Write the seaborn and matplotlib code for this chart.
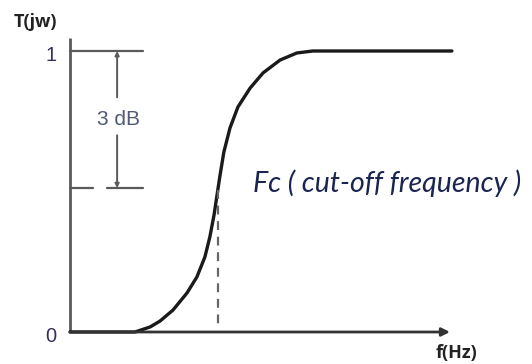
import matplotlib
matplotlib.use("Agg")
import matplotlib.pyplot as plt
import seaborn as sns
import pandas as pd

# 高通滤波器幅频响应示意图（读图估计的点）
freq = [0, 1.71, 2.11, 2.37, 2.71, 3.08, 3.34, 3.55, 3.68, 3.79, 3.87, 3.95,
        4.05, 4.21, 4.42, 4.74, 5.08, 5.53, 5.97, 6.39, 6.84, 10.05]
gain = [0, 0, 0.018, 0.039, 0.078, 0.139, 0.196, 0.267, 0.338, 0.416, 0.488,
        0.559, 0.641, 0.726, 0.801, 0.868, 0.922, 0.968, 0.993, 1.0, 1.0, 1.0]
fc = 3.89          # cut-off frequency
fc_gain = 0.512    # level of the lower 3 dB mark
y_ticks = [0, 1]
y_tick_labels = ['0', '1']

df = pd.DataFrame({'f': freq, 'T': gain})

sns.set_theme(style='white')
plt.rcParams['font.family'] = ['Open Sans', 'DejaVu Sans']

fig = plt.figure(figsize=(5.32, 3.64), dpi=100)
ax = fig.add_axes([0, 0, 1, 1])
ax.set_xlim(-1.842, 12.158)
ax.set_ylim(-0.1139, 1.1815)
ax.axis('off')

axis_col = '#5a5a5a'
# 坐标轴
ax.plot([0, 0], [0, 1.046], color=axis_col, lw=2, solid_capstyle='butt')
ax.annotate('', xy=(10.0, 0), xytext=(0, 0),
            arrowprops=dict(arrowstyle='-|>', color='#333333', lw=2,
                            mutation_scale=12, shrinkA=0, shrinkB=0))

# 曲线
sns.lineplot(data=df, x='f', y='T', ax=ax, color='#1a1a1a', lw=2.4,
             sort=False, estimator=None, solid_joinstyle='round')

# 3 dB 标注
ax.plot([0, 1.92], [1, 1], color=axis_col, lw=1.6)
ax.plot([0, 0.6], [fc_gain, fc_gain], color=axis_col, lw=1.6)
ax.plot([0.97, 1.92], [fc_gain, fc_gain], color=axis_col, lw=1.6)
x3 = 1.24
ax.annotate('', xy=(x3, 1), xytext=(x3, 0.835),
            arrowprops=dict(arrowstyle='-|>', color=axis_col, lw=1.4,
                            mutation_scale=6, shrinkA=0, shrinkB=0))
ax.annotate('', xy=(x3, fc_gain), xytext=(x3, 0.70),
            arrowprops=dict(arrowstyle='-|>', color=axis_col, lw=1.4,
                            mutation_scale=6, shrinkA=0, shrinkB=0))
ax.text(x3 + 0.04, 0.758, '3 dB', ha='center', va='center', fontsize=15,
        color='#505a75', family=['Liberation Sans', 'DejaVu Sans'])

# 截止频率虚线
ax.plot([fc, fc], [0.505, 0.025], color='#666666', lw=1.6, ls=(0, (4, 3)))

# 文字
for t, lab in zip(y_ticks, y_tick_labels):
    ax.text(-0.5, t - 0.015, lab, ha='center', va='center', fontsize=14.5,
            color='#3a2d60', family=['Liberation Sans', 'DejaVu Sans'])
ax.text(-0.92, 1.103, 'T(jw)', ha='center', va='center', fontsize=13,
        fontweight='bold', color='#222222')
ax.text(10.18, -0.075, 'f(Hz)', ha='center', va='center', fontsize=13,
        fontweight='bold', color='#222222')
ax.text(4.82, 0.53, 'Fc ( cut-off frequency )', ha='left', va='center',
        fontsize=20.5, fontstyle='italic', color='#1a2550',
        family=['Lato', 'DejaVu Sans'])

fig.savefig('out.png', dpi=100)
